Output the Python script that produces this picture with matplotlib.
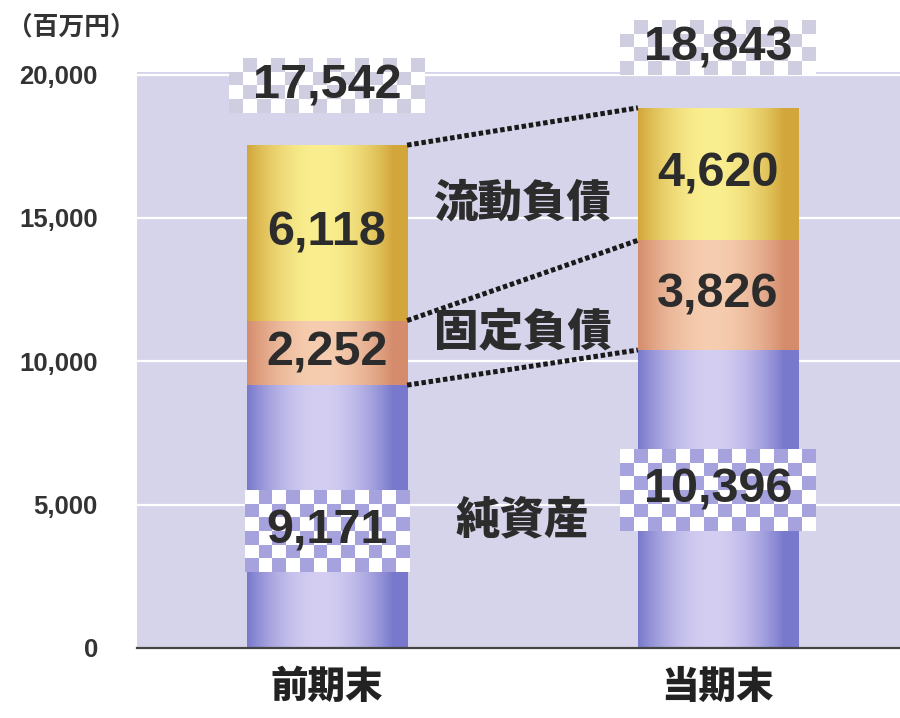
import numpy as np
import matplotlib
matplotlib.use('Agg')
import matplotlib.pyplot as plt
from matplotlib.colors import to_rgb

plt.rcParams['font.family'] = ['Liberation Sans', 'Noto Sans CJK JP', 'DejaVu Sans']

# ---------------- data ----------------
categories = ['前期末', '当期末']
net_assets = [9171, 10396]
fixed_liab = [2252, 3826]
current_liab = [6118, 4620]
totals = [17542, 18843]
series_names = ['純資産', '固定負債', '流動負債']
yticks = [0, 5000, 10000, 15000, 20000]
ytick_labels = ['0', '5,000', '10,000', '15,000', '20,000']
unit_label = '（百万円）'

# ---------------- style ----------------
bar_w = 0.41
text_col = '#2c2c2c'
grad = {
    'net': ('#7878cc', '#d4cef2'),
    'fixed': ('#d48c6c', '#f6cdb0'),
    'current': ('#d2a63a', '#faef90'),
}

fig = plt.figure(figsize=(9, 7.18), dpi=100)
ax = fig.add_axes([0.152, 0.0975, 0.848, 0.8025])
ax.set_facecolor('#d6d4ea')

x = np.arange(len(categories))


def gradient_bar(xc, bottom, height, key, width=bar_w):
    dark, light = (np.array(to_rgb(c)) for c in grad[key])
    bars = ax.bar([xc], [height], bottom=[bottom], width=width,
                  color=grad[key][0], linewidth=0, zorder=2)
    patch = bars.patches[0]
    t = np.linspace(0, 1, 200)
    f = np.sin(np.pi * np.clip(t * 1.1, 0, 1)) ** 0.9
    img = dark[None, :] + (light - dark)[None, :] * f[:, None]
    im = ax.imshow(img[None, :, :], extent=(xc - width / 2, xc + width / 2,
                   bottom, bottom + height), aspect='auto', zorder=2.1,
                   interpolation='bilinear')
    im.set_clip_path(patch)


for i in range(len(categories)):
    gradient_bar(x[i], 0, net_assets[i], 'net')
    gradient_bar(x[i], net_assets[i], fixed_liab[i], 'fixed')
    gradient_bar(x[i], net_assets[i] + fixed_liab[i], current_liab[i], 'current')

ax.set_aspect('auto')
ax.set_xlim(-0.486, 1.465)
ax.set_ylim(0, 20100)


def checker(xc, yc, w, h, col, cell_px=14):
    cols = max(2, int(round(w / (cell_px / 391.0))))
    rows = max(2, int(round(h / (cell_px * 34.9))))
    c1 = np.array([1.0, 1.0, 1.0])
    c2 = np.array(to_rgb(col))
    arr = np.zeros((rows, cols, 3))
    for r in range(rows):
        for c in range(cols):
            arr[r, c] = c2 if (r + c) % 2 else c1
    ax.imshow(arr, extent=(xc - w / 2, xc + w / 2, yc - h / 2, yc + h / 2),
              aspect='auto', interpolation='nearest', zorder=3, clip_on=False)


# connectors (dotted)
stacks = [net_assets,
          [n + f for n, f in zip(net_assets, fixed_liab)],
          totals]
for s in stacks:
    ax.plot([x[0] + bar_w / 2, x[1] - bar_w / 2], [s[0], s[1]],
            color='#1a1a1a', lw=3.6, linestyle=(0, (0.9, 0.55)), zorder=4,
            solid_capstyle='butt', dash_capstyle='butt')

# value labels
val_fs = 35
for i in range(len(categories)):
    ty = totals[i] + 2080
    checker(x[i], ty, 0.50, 1900, '#cfcde0')
    ax.text(x[i], ty, f'{totals[i]:,}', ha='center', va='center', fontsize=val_fs,
            fontweight='bold', color=text_col, zorder=5, clip_on=False)
    ax.text(x[i], net_assets[i] + fixed_liab[i] + current_liab[i] / 2,
            f'{current_liab[i]:,}', ha='center', va='center', fontsize=val_fs,
            fontweight='bold', color=text_col, zorder=5)
    ax.text(x[i], net_assets[i] + fixed_liab[i] / 2, f'{fixed_liab[i]:,}',
            ha='center', va='center', fontsize=val_fs, fontweight='bold',
            color=text_col, zorder=5)

net_offsets = [-520, 310]
net_box_w = [0.42, 0.50]
for i in range(len(categories)):
    ny = net_assets[i] / 2 + net_offsets[i]
    checker(x[i], ny, net_box_w[i], 2850, '#a6a2de')
    ax.text(x[i], ny, f'{net_assets[i]:,}', ha='center', va='center',
            fontsize=val_fs, fontweight='bold', color=text_col, zorder=5)

# series labels in the middle
mid_x = (x[0] + x[1]) / 2
seg_mids = [
    np.mean([n / 2 for n in net_assets]) - 420,
    np.mean([n + f / 2 for n, f in zip(net_assets, fixed_liab)]) - 270,
    np.mean([n + f + c / 2 for n, f, c in zip(net_assets, fixed_liab, current_liab)]),
]
for name, y in zip(series_names, seg_mids):
    ax.text(mid_x + 0.0, y, name, ha='center', va='center', fontsize=32,
            fontweight='black', color=text_col, zorder=5,
            family=['Noto Sans CJK JP'])

# axes styling
ax.set_yticks(yticks)
ax.set_yticklabels(ytick_labels, fontsize=18.5, fontweight='bold', color='#333333')
ax.tick_params(axis='y', length=0, pad=28)
ax.set_xticks(x)
ax.set_xticklabels(categories, fontsize=27, fontweight='black', color='#222222',
                   family=['Noto Sans CJK JP'])
ax.tick_params(axis='x', length=0, pad=14)
ax.set_axisbelow(True)
ax.yaxis.grid(True, color='white', lw=1.6, zorder=0)
for sp in ['top', 'right', 'left']:
    ax.spines[sp].set_visible(False)
ax.spines['bottom'].set_color('#444444')
ax.spines['bottom'].set_linewidth(1.6)

fig.text(0.008, 0.962, unit_label, fontsize=18.5, fontweight='bold', color='#333333',
         va='center', ha='left', family=['Noto Sans CJK JP'])

fig.savefig('out.png', dpi=100)
